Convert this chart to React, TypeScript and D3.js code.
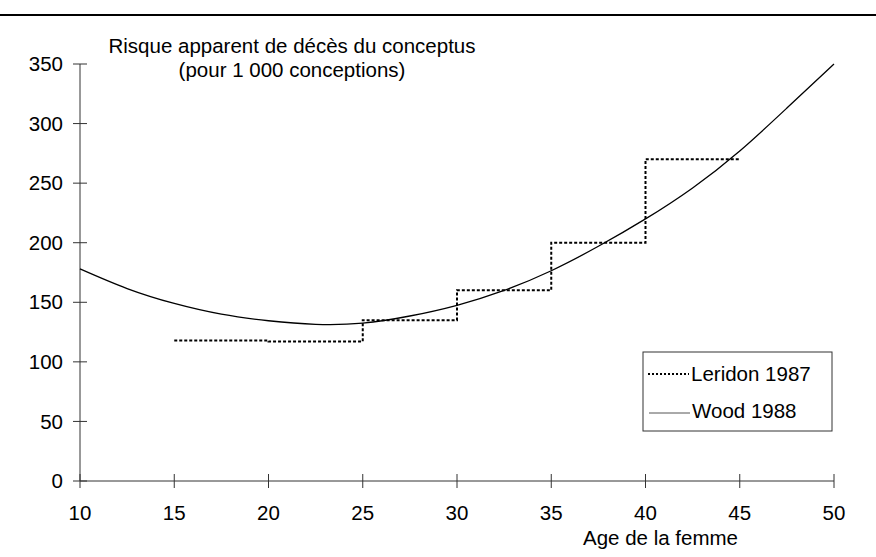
import React from 'react';
import * as d3 from 'd3';

// Leridon 1987 : risque par tranche d'âge (âge de début, valeur)
const leridonAges = [15, 20, 25, 30, 35, 40, 45];
const leridonValues = [118, 117, 135, 160, 200, 270, 270];

// Wood 1988 : courbe
const woodAges = [10, 12.5, 15, 17.5, 20, 22.5, 25, 27.5, 30, 32.5, 35, 37.5, 40, 42.5, 45, 47.5, 50];
const woodValues = [178, 161.5, 149, 140, 134.5, 131.5, 132.5, 138.5, 147.5, 160, 176.5, 197, 220, 246, 277, 313, 350];

const xTicks = [10, 15, 20, 25, 30, 35, 40, 45, 50];
const yTicks = [0, 50, 100, 150, 200, 250, 300, 350];

const W = 876;
const H = 557;
const FONT = 'Arial, "Liberation Sans", Helvetica, sans-serif';

const App = () => {
  const x = d3.scaleLinear().domain([10, 50]).range([80, 834]);
  const y = d3.scaleLinear().domain([0, 350]).range([481, 64]);

  const leridonLine = d3
    .line<number>()
    .x((d, i) => x(leridonAges[i]))
    .y(d => y(d))
    .curve(d3.curveStepAfter);

  const woodLine = d3
    .line<number>()
    .x((d, i) => x(woodAges[i]))
    .y(d => y(d))
    .curve(d3.curveNatural);

  const txt = { fontFamily: FONT, fontSize: 20.5, fill: '#000' };

  return (
    <svg
      width={W}
      height={H}
      style={{ position: 'absolute', left: 0, top: 0, background: '#fff' }}
    >
      <rect width={W} height={H} fill="#fff" />
      <line x1={0} x2={W} y1={15} y2={15} stroke="#000" strokeWidth={2} />

      {/* axes */}
      <line x1={x(10)} x2={x(10)} y1={y(350)} y2={y(0)} stroke="#333" strokeWidth={1} />
      <line x1={x(10)} x2={x(50)} y1={y(0)} y2={y(0)} stroke="#333" strokeWidth={1} />

      {yTicks.map(t => (
        <g key={'y' + t}>
          <line x1={x(10) - 7} x2={x(10) + 7} y1={y(t)} y2={y(t)} stroke="#333" />
          <text {...txt} x={63} y={y(t)} dy="0.35em" textAnchor="end">
            {t}
          </text>
        </g>
      ))}

      {xTicks.map(t => (
        <g key={'x' + t}>
          <line x1={x(t)} x2={x(t)} y1={y(0) - 7} y2={y(0) + 7} stroke="#333" />
          <text {...txt} x={x(t)} y={520} textAnchor="middle">
            {t}
          </text>
        </g>
      ))}

      {/* curves */}
      <path d={woodLine(woodValues) || ''} fill="none" stroke="#000" strokeWidth={1.3} />
      <path
        d={leridonLine(leridonValues) || ''}
        fill="none"
        stroke="#000"
        strokeWidth={2}
        strokeDasharray="3,2"
      />

      {/* titles */}
      <text {...txt} x={292} y={52.5} textAnchor="middle">
        Risque apparent de décès du conceptus
      </text>
      <text {...txt} x={292} y={77} textAnchor="middle">
        (pour 1 000 conceptions)
      </text>
      <text {...txt} x={583} y={545}>
        Age de la femme
      </text>

      {/* legend */}
      <rect x={643} y={352} width={189} height={79} fill="#fff" stroke="#333" strokeWidth={1} />
      <line x1={648} x2={689} y1={374} y2={374} stroke="#000" strokeWidth={2} strokeDasharray="2,2" />
      <text {...txt} x={691} y={381}>
        Leridon 1987
      </text>
      <line x1={649} x2={690} y1={413} y2={413} stroke="#555" strokeWidth={1} />
      <text {...txt} x={692} y={418}>
        Wood 1988
      </text>
    </svg>
  );
};

export default App;
